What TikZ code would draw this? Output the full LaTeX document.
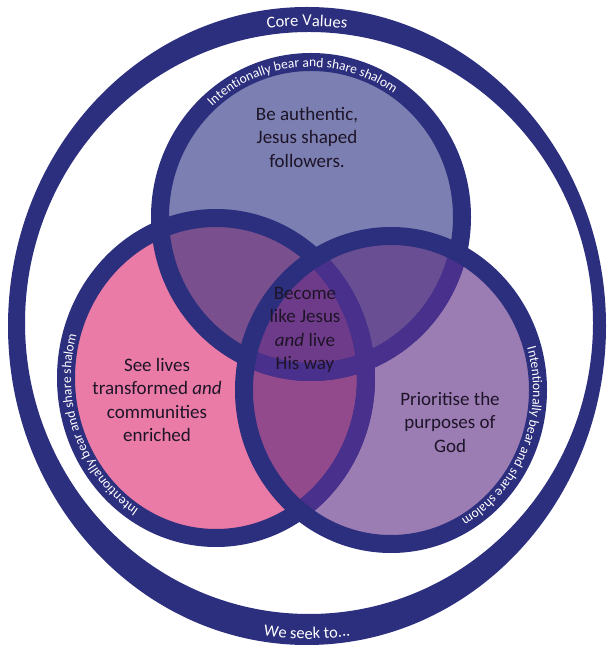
\documentclass[tikz,border=0pt]{standalone}
\usepackage{fontspec}
\setmainfont{Carlito}
\usetikzlibrary{decorations.text}
\definecolor{navy}{HTML}{2C2E7E}
\definecolor{tintnavy}{HTML}{48308C}
\definecolor{topcol}{HTML}{7B7FB1}
\definecolor{leftcol}{HTML}{E97BA6}
\definecolor{rightcol}{HTML}{9B7DB4}
\definecolor{tlcol}{HTML}{794F8E}
\definecolor{trcol}{HTML}{6A4E94}
\definecolor{lrcol}{HTML}{934A8C}
\definecolor{centcol}{HTML}{6E3A8A}
\definecolor{labelcol}{HTML}{1E1428}
\newcommand\ringfont{\fontsize{13.5}{13.5}\selectfont}
\newcommand\outerfont{\fontsize{16.5}{16.5}\selectfont}
\begin{document}
\begin{tikzpicture}[x=1pt,y=1pt,
  ringline/.style={draw=navy, line width=18pt},
  label/.style={text=labelcol, align=center, font=\fontsize{19}{23.5}\selectfont, inner sep=0pt},
  ringtext/.style={decorate, decoration={text along path, text color=white, text align=center}}]
\useasboundingbox (0,0) rectangle (606,645);
\fill[white] (0,0) rectangle (606,645);
% outer ring
\coordinate (O) at (307,319);
\coordinate (Oi) at (309,322);
\fill[navy, even odd rule] (O) ellipse [x radius=299, y radius=319] (Oi) ellipse [x radius=284, y radius=291];
% circle centres
\coordinate (T) at (311,428);
\coordinate (L) at (216,267);
\coordinate (R) at (391,255);
\def\Tell{(T) ellipse [x radius=151, y radius=155]}
\def\Lell{(L) ellipse [x radius=150, y radius=160]}
\def\Rell{(R) ellipse [x radius=147, y radius=154]}
% fills
\fill[topcol] \Tell;
\fill[leftcol] \Lell;
\fill[rightcol] \Rell;
\begin{scope}\clip \Tell; \fill[tlcol] \Lell; \end{scope}
\begin{scope}\clip \Tell; \fill[trcol] \Rell; \end{scope}
\begin{scope}\clip \Lell; \fill[lrcol] \Rell; \end{scope}
\begin{scope}\clip \Tell; \clip \Lell; \fill[centcol] \Rell; \end{scope}
% borders
\draw[ringline] \Tell;
\draw[ringline] \Lell;
\begin{scope}
  \clip (R) ellipse [x radius=138, y radius=145];
  \draw[ringline, draw=tintnavy] \Tell;
  \draw[ringline, draw=tintnavy] \Lell;
\end{scope}
\draw[ringline] \Rell;
% ring texts
\path[ringtext, decoration={text={|\ringfont|Intentionally bear and share shalom}}]
  ([shift={(136:146 and 150)}]T) arc[start angle=136, end angle=52, x radius=146, y radius=150];
\path[ringtext, decoration={text={|\ringfont|Intentionally bear and share shalom}}]
  ([shift={(243:145 and 155)}]L) arc[start angle=243, end angle=159, x radius=145, y radius=155];
\path[ringtext, decoration={text={|\ringfont|Intentionally bear and share shalom}}]
  ([shift={(20:142 and 149)}]R) arc[start angle=20, end angle=-64, x radius=142, y radius=149];
\path[ringtext, decoration={text={|\outerfont|Core Values}}]
  ([shift={(106:290 and 300)}]O) arc[start angle=106, end angle=74, x radius=290, y radius=300];
\path[ringtext, decoration={text={|\outerfont|We seek to...}}]
  ([shift={(254:290 and 313)}]O) arc[start angle=254, end angle=286, x radius=290, y radius=313];
% labels
\node[label] (ltop) at (307,508) {Be authentic,\\Jesus shaped\\followers.};
\node[label] (lcent) at (305,315) {Become\\like Jesus\\\textit{and} live\\His way};
\node[label] (lleft) at (157,245) {See lives\\transformed \textit{and}\\communities\\enriched};
\node[label] (lright) at (450,223) {Prioritise the\\purposes of\\God};
\end{tikzpicture}
\end{document}
